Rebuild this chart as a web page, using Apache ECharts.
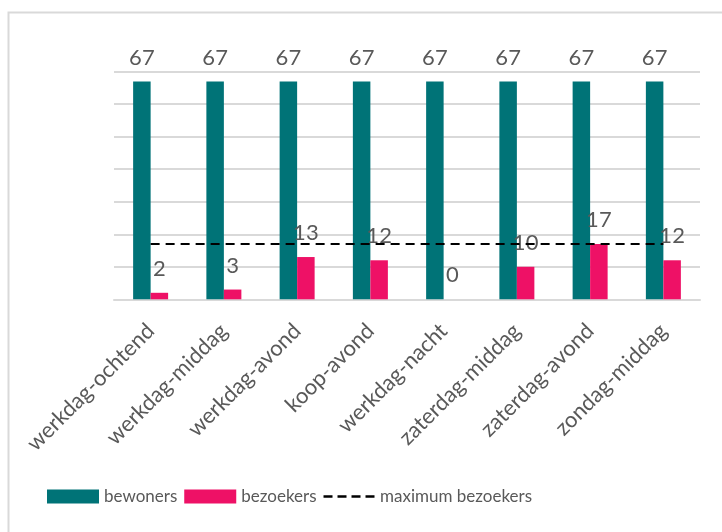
<!DOCTYPE html>
<html>
<head>
<meta charset="utf-8">
<script src="https://cdn.jsdelivr.net/npm/echarts@6/dist/echarts.min.js"></script>
<style>html,body{margin:0;padding:0;background:#fff;}#c{width:722px;height:532px;}</style>
</head>
<body>
<div id="c"></div>
<script>
const categories = ['werkdag-ochtend','werkdag-middag','werkdag-avond','koop-avond','werkdag-nacht','zaterdag-middag','zaterdag-avond','zondag-middag'];
const bewoners = [67,67,67,67,67,67,67,67];
const bezoekers = [2,3,13,12,0,10,17,12];
const maximumBezoekers = [17,17,17,17,17,17,17,17];

const FONT = 'Lato';
const TXT = '#595959';
const dashIcon = 'path://M0,0h0.01v0.01h-0.01z M51,13.99h0.01v0.01h-0.01z M0,5.8h9v2.4h-9z M14,5.8h9v2.4h-9z M28,5.8h9v2.4h-9z M42,5.8h9v2.4h-9z';
const chart = echarts.init(document.getElementById('c'), null, {renderer:'canvas'});
chart.setOption({
  animation:false,
  backgroundColor:'#fff',
  textStyle:{fontFamily:FONT},
  graphic:[{type:'rect',left:6,top:10,shape:{width:730,height:540},style:{fill:'none',stroke:'#d9d9d9',lineWidth:2},silent:true}],
  legend:{
    left:47, top:488, padding:0, itemWidth:52, itemHeight:14, itemGap:7,
    textStyle:{fontFamily:FONT,fontSize:17,color:TXT},
    data:[{name:'bewoners',icon:'rect'},{name:'bezoekers',icon:'rect'},{name:'maximum bezoekers',icon:dashIcon,itemStyle:{color:'#000'}}]
  },
  grid:{left:114,right:22,top:71.7,bottom:232.7,containLabel:false},
  xAxis:{
    type:'category', data:categories,
    axisLine:{lineStyle:{color:'#d9d9d9',width:2}},
    axisTick:{show:false},
    axisLabel:{rotate:45,interval:0,fontFamily:FONT,fontSize:22,color:TXT,margin:28}
  },
  yAxis:{
    type:'value',min:0,max:70,interval:10,
    axisLabel:{show:false},axisLine:{show:false},axisTick:{show:false},
    splitLine:{lineStyle:{color:'#d9d9d9',width:2}}
  },
  series:[
    {name:'bewoners',type:'bar',data:bewoners,barWidth:17.5,barGap:'0%',
     itemStyle:{color:'#007377'},
     label:{show:true,position:'top',distance:13,fontFamily:FONT,fontSize:22,color:TXT}},
    {name:'bezoekers',type:'bar',data:bezoekers,barWidth:17.5,barGap:'0%',
     itemStyle:{color:'#EE1166'},
     label:{show:true,position:'top',distance:13,fontFamily:FONT,fontSize:22,color:TXT}},
    {name:'maximum bezoekers',type:'line',data:maximumBezoekers,symbol:'none',showSymbol:false,
     itemStyle:{color:'#000'},
     lineStyle:{color:'#000',width:2,type:[9,6]},z:5}
  ]
});
</script>
</body>
</html>
